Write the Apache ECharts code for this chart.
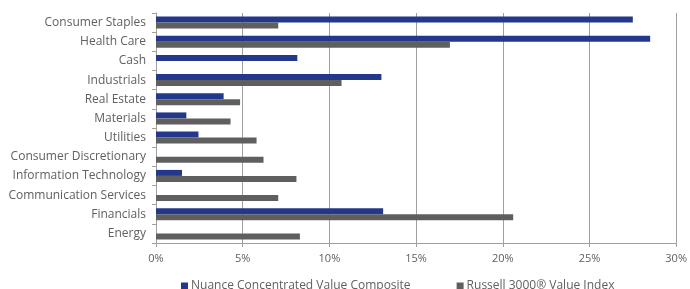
<!DOCTYPE html>
<html>
<head>
<meta charset="utf-8">
<script src="https://cdn.jsdelivr.net/npm/echarts@6/dist/echarts.min.js"></script>
<style>
html, body { margin: 0; padding: 0; background: #fff; }
#main { width: 690px; height: 289px; }
</style>
</head>
<body>
<div id="main"></div>
<script>
// sectors, top to bottom
var categories = ['Consumer Staples', 'Health Care', 'Cash', 'Industrials', 'Real Estate', 'Materials',
    'Utilities', 'Consumer Discretionary', 'Information Technology', 'Communication Services', 'Financials', 'Energy'];
var nuance = [27.5, 28.5, 8.15, 13.0, 3.9, 1.75, 2.45, 0, 1.5, 0, 13.1, 0];
var russell = [7.05, 16.95, 0, 10.7, 4.85, 4.3, 5.8, 6.2, 8.1, 7.05, 20.6, 8.3];
var xTicks = [0, 5, 10, 15, 20, 25, 30];

var textColor = '#606060';
var fontFam = '"Open Sans", sans-serif';

var myChart = echarts.init(document.getElementById('main'));
var option = {
    animation: false,
    textStyle: { fontFamily: fontFam },
    grid: { left: 156, right: 12, top: 13, bottom: 46, containLabel: false },
    legend: {
        left: 176,
        top: 275,
        itemWidth: 7,
        itemHeight: 7,
        itemGap: 46,
        icon: 'rect',
        textStyle: { color: textColor, fontSize: 12, fontFamily: fontFam, padding: [0, 0, 0, -2] },
        data: ['Nuance Concentrated Value Composite', 'Russell 3000® Value Index']
    },
    xAxis: {
        type: 'value',
        min: xTicks[0],
        max: xTicks[xTicks.length - 1],
        interval: 5,
        axisLine: { show: true, lineStyle: { color: '#a0a0a0' } },
        axisTick: { show: true, length: 4, lineStyle: { color: '#a0a0a0' } },
        axisLabel: { color: textColor, fontSize: 11, margin: 10, formatter: '{value}%' },
        splitLine: { show: true, lineStyle: { color: '#a0a0a0', width: 1 } }
    },
    yAxis: {
        type: 'category',
        inverse: true,
        data: categories,
        axisLine: { show: true, lineStyle: { color: '#a0a0a0' } },
        axisTick: { show: true, length: 4, lineStyle: { color: '#a0a0a0' } },
        axisLabel: { color: textColor, fontSize: 12, margin: 10 }
    },
    series: [
        {
            name: 'Nuance Concentrated Value Composite',
            type: 'bar',
            data: nuance,
            barWidth: 6,
            barGap: '0%',
            itemStyle: { color: '#23388a' }
        },
        {
            name: 'Russell 3000® Value Index',
            type: 'bar',
            data: russell,
            barWidth: 6,
            itemStyle: { color: '#5f5f5f' }
        }
    ]
};
myChart.setOption(option);
</script>
</body>
</html>
